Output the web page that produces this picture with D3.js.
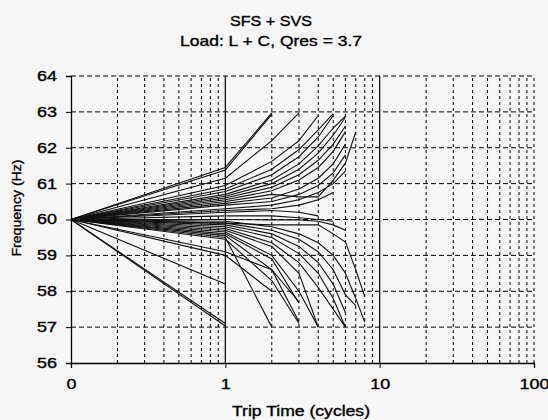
<!DOCTYPE html>
<html>
<head>
<meta charset="utf-8">
<script src="https://cdn.jsdelivr.net/npm/d3@7"></script>
<style>
  body { margin: 0; background: #f7f7f7; }
  text { font-family: "Liberation Sans", Arial, sans-serif; fill: #000; stroke: #000; stroke-width: 0.35px; }
</style>
</head>
<body>
<svg id="chart" width="548" height="420"></svg>
<script>
/* ------------ Data ----------------*/
const tripCycles = [0.1, 1, 2, 3, 4, 5, 6, 7, 8];

// rising runs (trip at the upper limit)
const upRuns = [
  [60, 61.45, 62.97],
  [60, 61.38, 62.93],
  [60, 61.15, 62.2, 62.97],
  [60, 60.95, 61.62, 62.2, 62.9],
  [60, 60.85, 61.4, 61.95, 62.5, 62.95],
  [60, 60.78, 61.25, 61.75, 62.3, 62.9],
  [60, 60.7, 61.1, 61.55, 62.05, 62.55, 62.88],
  [60, 60.65, 61.0, 61.4, 61.85, 62.35, 62.85],
  [60, 60.6, 60.9, 61.25, 61.65, 62.1, 62.6],
  [60, 60.55, 60.8, 61.1, 61.45, 61.9, 62.45],
  [60, 60.5, 60.7, 60.63, 60.63, 61.1, 61.57, 62.44],
  [60, 60.45, 60.6, 60.85, 61.15, 61.55, 62.1],
  [60, 60.4, 60.5, 60.7, 60.95, 61.3, 61.8],
  [60, 60.3, 60.4, 60.55, 60.75, 61.0, 61.35],
  [60, 60.25, 60.3, 60.4, 60.55, 60.75]
];

// runs that stay close to 60 Hz
const flatRuns = [
  [60, 60.2, 60.25, 60.2, 60.1],
  [60, 60.1, 60.1, 60.05, 60.0, 59.95],
  [60, 60.0, 59.99, 59.99, 59.95, 59.85, 59.7],
  [60, 59.9, 59.85, 59.85, 59.85, 59.6, 59.37, 58.6, 57.85]
];

// falling runs (trip at the lower limit)
const downRuns = [
  [60, 57.03],
  [60, 57.1],
  [60, 58.2],
  [60, 59.0, 58.0],
  [60, 59.1, 58.6, 57.7],
  [60, 59.5, 57.0],
  [60, 59.45, 58.3, 57.1],
  [60, 59.55, 58.6, 57.15],
  [60, 59.6, 58.9, 57.67],
  [60, 59.65, 59.0, 58.0, 57.0],
  [60, 59.7, 59.25, 58.5, 57.0],
  [60, 59.75, 59.35, 58.8, 58.1, 57.5, 57.0],
  [60, 59.8, 59.5, 59.05, 58.5, 57.8, 57.0],
  [60, 59.85, 59.6, 59.25, 58.8, 58.2, 57.4],
  [60, 59.9, 59.7, 59.45, 59.1, 58.6, 57.9, 57.6],
  [60, 59.95, 59.8, 59.6, 59.35, 59.0, 58.5, 57.8, 57.14]
];

const xTicks = [0.1, 1, 10, 100];
const xTickLabels = ['0', '1', '10', '100'];
const xMinorTicks = [0.2, 0.3, 0.4, 0.5, 0.6, 0.7, 0.8, 0.9,
  2, 3, 4, 5, 6, 7, 8, 9, 20, 30, 40, 50, 60, 70, 80, 90];
const yTicks = [56, 57, 58, 59, 60, 61, 62, 63, 64];

/* ------------ Chart ----------------*/
const svg = d3.select('#chart');
const plotLeft = 71, plotRight = 534, plotTop = 76, plotBottom = 363;

const x = d3.scaleLog().domain([0.1, 100]).range([plotLeft, plotRight]);
const y = d3.scaleLinear().domain([56, 64]).range([plotBottom, plotTop]);

// grid
const grid = svg.append('g').attr('class', 'grid');
grid.selectAll('.hgrid')
  .data(yTicks.slice(1))
  .enter().append('line')
  .attr('class', 'hgrid')
  .attr('x1', plotLeft)
  .attr('x2', plotRight)
  .attr('y1', d => y(d))
  .attr('y2', d => y(d))
  .attr('stroke', '#000')
  .attr('stroke-width', 1)
  .attr('stroke-dasharray', '5,3');
grid.selectAll('.vminor')
  .data(xMinorTicks.concat([100]))
  .enter().append('line')
  .attr('class', 'vminor')
  .attr('x1', d => x(d))
  .attr('x2', d => x(d))
  .attr('y1', plotBottom)
  .attr('y2', plotTop)
  .attr('stroke', '#000')
  .attr('stroke-width', 1)
  .attr('stroke-dasharray', '3,3');
grid.selectAll('.vmajor')
  .data([1, 10])
  .enter().append('line')
  .attr('class', 'vmajor')
  .attr('x1', d => x(d))
  .attr('x2', d => x(d))
  .attr('y1', plotBottom)
  .attr('y2', plotTop)
  .attr('stroke', '#000')
  .attr('stroke-width', 1.2);

// runs
const line = d3.line()
  .x((d, i) => x(tripCycles[i]))
  .y(d => y(d));

svg.append('g')
  .attr('class', 'runs')
  .selectAll('path')
  .data(upRuns.concat(flatRuns, downRuns))
  .enter().append('path')
  .attr('d', d => line(d))
  .attr('fill', 'none')
  .attr('stroke', '#111')
  .attr('stroke-width', 1.1);

// axes
const yAxis = d3.axisLeft(y)
  .tickValues(yTicks)
  .tickSize(5)
  .tickPadding(9)
  .tickFormat(d3.format('d'));
const yG = svg.append('g')
  .attr('transform', `translate(${plotLeft},0)`)
  .call(yAxis);
yG.selectAll('text')
  .attr('font-size', '14px')
  .attr('textLength', 20)
  .attr('lengthAdjust', 'spacingAndGlyphs');

const xAxis = d3.axisBottom(x)
  .tickValues(xTicks)
  .tickSize(5)
  .tickPadding(11)
  .tickFormat((d, i) => xTickLabels[i]);
const xG = svg.append('g')
  .attr('transform', `translate(0,${plotBottom})`)
  .call(xAxis);
xG.selectAll('text')
  .attr('font-size', '14px')
  .attr('textLength', (d, i) => xTickLabels[i].length * 10)
  .attr('lengthAdjust', 'spacingAndGlyphs');

svg.selectAll('.domain').attr('stroke', '#000').attr('stroke-width', 1.3);
svg.selectAll('.tick line').attr('stroke', '#000');

// titles
svg.append('text')
  .attr('x', 271)
  .attr('y', 26)
  .attr('text-anchor', 'middle')
  .attr('font-size', '15px')
  .attr('textLength', 82)
  .attr('lengthAdjust', 'spacingAndGlyphs')
  .text('SFS + SVS');
svg.append('text')
  .attr('x', 271)
  .attr('y', 46)
  .attr('text-anchor', 'middle')
  .attr('font-size', '15px')
  .attr('textLength', 182)
  .attr('lengthAdjust', 'spacingAndGlyphs')
  .text('Load: L + C, Qres = 3.7');

svg.append('text')
  .attr('x', 301)
  .attr('y', 416)
  .attr('text-anchor', 'middle')
  .attr('font-size', '14px')
  .attr('textLength', 138)
  .attr('lengthAdjust', 'spacingAndGlyphs')
  .text('Trip Time (cycles)');

svg.append('text')
  .attr('transform', 'translate(21,208) rotate(-90)')
  .attr('text-anchor', 'middle')
  .attr('font-size', '13px')
  .attr('textLength', 97)
  .attr('lengthAdjust', 'spacingAndGlyphs')
  .text('Frequency (Hz)');
</script>
</body>
</html>
